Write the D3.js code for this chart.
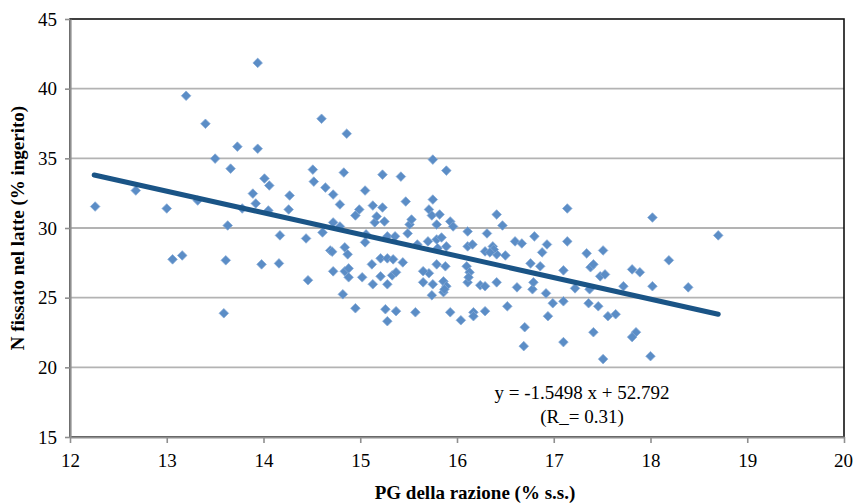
<!DOCTYPE html>
<html>
<head>
<meta charset="utf-8">
<script src="https://cdn.jsdelivr.net/npm/d3@7"></script>
<style>
    body { margin: 0; background: #fff; }
    svg text { font-family: "Liberation Serif", "Times New Roman", serif; fill: #000; }
</style>
</head>
<body>
<div id="chart"></div>
<script>
// PG della razione (% s.s.) - asse x
const pgRazione = [
    12.26, 12.68, 13.00, 13.06, 13.16, 13.20, 13.32, 13.40, 13.50, 13.59,
    13.61, 13.63, 13.66, 13.73, 13.78, 13.89, 13.92, 13.94, 13.94, 13.98,
    14.01, 14.05, 14.06, 14.16, 14.17, 14.26, 14.27, 14.44, 14.46, 14.51,
    14.52, 14.60, 14.61, 14.64, 14.69, 14.72, 14.72, 14.72, 14.79, 14.79,
    14.82, 14.83, 14.84, 14.84, 14.88, 14.86, 14.87, 14.88, 14.95, 14.95,
    14.99, 15.02, 15.05, 15.06, 15.05, 15.12, 15.13, 15.13, 15.15, 15.17,
    15.21, 15.21, 15.23, 15.23, 15.25, 15.26, 15.28, 15.28, 15.28, 15.28,
    15.34, 15.33, 15.36, 15.37, 15.37, 15.42, 15.44, 15.47, 15.49, 15.51,
    15.53, 15.57, 15.59, 15.65, 15.70, 15.71, 15.71, 15.74, 15.74, 15.75,
    15.75, 15.75, 15.79, 15.79, 15.79, 15.82, 15.84, 15.86, 15.86, 15.88,
    15.89, 15.89, 15.89, 15.93, 15.93, 15.96, 16.04, 16.10, 16.11, 16.11,
    16.11, 16.13, 16.16, 16.17, 16.17, 16.24, 16.29, 16.29, 16.29, 16.31,
    16.37, 16.41, 16.41, 16.41, 16.47, 16.50, 16.52, 16.60, 16.62, 16.67,
    16.69, 16.70, 16.76, 16.78, 16.79, 16.80, 16.86, 16.88, 16.92, 16.93,
    16.94, 16.99, 17.10, 17.10, 17.10, 17.14, 17.14, 17.22, 17.34, 17.36,
    17.37, 17.38, 17.41, 17.41, 17.46, 17.48, 17.51, 17.51, 17.53, 17.56,
    17.64, 17.72, 17.81, 17.85, 17.81, 17.89, 18.00, 18.02, 18.02, 18.19,
    18.39, 18.70, 15.87, 16.12, 16.38, 14.71, 15.80, 16.34, 15.65
];

// N fissato nel latte (% ingerito) - asse y
const nFissato = [
    31.54, 32.69, 31.40, 27.75, 28.03, 39.49, 31.97, 37.48, 34.98, 23.88,
    27.68, 30.18, 34.26, 35.84, 31.40, 32.47, 31.76, 35.69, 41.85, 27.39,
    33.55, 31.26, 33.05, 27.46, 29.47, 31.33, 32.33, 29.25, 26.25, 34.19,
    33.33, 37.84, 29.68, 32.90, 28.39, 32.40, 30.40, 26.89, 31.69, 30.11,
    25.24, 33.98, 28.61, 26.89, 27.10, 36.77, 28.11, 26.46, 30.90, 24.24,
    31.33, 26.46, 32.69, 29.54, 28.97, 27.39, 31.61, 25.96, 30.40, 30.83,
    27.82, 26.53, 33.83, 31.47, 30.47, 24.17, 29.40, 27.82, 25.96, 23.31,
    27.75, 26.60, 29.40, 24.03, 26.82, 33.69, 27.53, 31.90, 29.61, 30.25,
    30.61, 23.95, 28.82, 26.10, 29.04, 31.33, 26.75, 30.90, 25.17, 34.91,
    32.04, 25.96, 30.25, 29.18, 27.39, 30.97, 29.32, 26.17, 25.39, 27.25,
    34.12, 28.68, 25.82, 30.47, 23.95, 30.11, 23.38, 27.25, 29.75, 28.68,
    26.10, 26.82, 28.82, 23.95, 23.67, 25.89, 28.32, 25.82, 24.03, 29.61,
    28.68, 30.97, 28.11, 26.10, 30.18, 28.03, 24.38, 29.04, 25.74, 28.89,
    21.52, 22.88, 27.46, 25.60, 26.10, 29.40, 27.25, 28.25, 25.31, 28.82,
    23.67, 24.60, 26.96, 24.74, 21.81, 31.40, 29.04, 25.67, 28.18, 24.60,
    25.60, 27.18, 27.39, 22.52, 24.38, 26.53, 28.39, 20.59, 26.67, 23.67,
    23.81, 25.82, 27.03, 22.52, 22.17, 26.82, 20.80, 30.75, 25.82, 27.68,
    25.74, 29.47, 25.60, 26.46, 28.46, 28.30, 28.55, 28.25, 26.90
];

// retta di regressione y = -1.5498 x + 52.792
const trendSlope = -1.5498;
const trendIntercept = 52.792;
const trendRange = [12.25, 18.7];

const xTicks = [12, 13, 14, 15, 16, 17, 18, 19, 20];
const yTicks = [15, 20, 25, 30, 35, 40, 45];

const equationLines = ["y = -1.5498 x + 52.792", "(R_= 0.31)"];
const xTitle = "PG della razione (% s.s.)";
const yTitle = "N fissato nel latte (% ingerito)";

const WIDTH = 854;
const HEIGHT = 503;
const margin = { top: 19, right: 10, bottom: 66, left: 70 };

const svg = d3.select("#chart")
    .append("svg")
    .attr("width", WIDTH)
    .attr("height", HEIGHT);

const x = d3.scaleLinear()
    .domain([12, 20])
    .range([margin.left, WIDTH - margin.right]);

const y = d3.scaleLinear()
    .domain([15, 45])
    .range([HEIGHT - margin.bottom, margin.top]);

// griglia orizzontale
svg.append("g")
    .selectAll("line")
    .data(yTicks.filter(v => v > 15 && v < 45))
    .enter()
    .append("line")
    .attr("x1", x(12))
    .attr("x2", x(20))
    .attr("y1", d => y(d))
    .attr("y2", d => y(d))
    .attr("stroke", "#b3b3b3")
    .attr("stroke-width", 1.8);

// bordo dell'area del grafico
svg.append("rect")
    .attr("x", x(12))
    .attr("y", y(45))
    .attr("width", x(20) - x(12))
    .attr("height", y(15) - y(45))
    .attr("fill", "none")
    .attr("stroke", "#111")
    .attr("stroke-width", 1.6);

// assi
const yAxis = svg.append("g")
    .attr("transform", `translate(${x(12)},0)`)
    .call(d3.axisLeft(y).tickValues(yTicks).tickSize(5).tickPadding(8).tickSizeOuter(0));

const xAxis = svg.append("g")
    .attr("transform", `translate(0,${y(15)})`)
    .call(d3.axisBottom(x).tickValues(xTicks).tickSize(6).tickPadding(11).tickSizeOuter(0));

[yAxis, xAxis].forEach(ax => {
    ax.select(".domain").attr("stroke", "#8f8f8f").attr("stroke-width", 2.2);
    ax.selectAll(".tick line").attr("stroke", "#8f8f8f").attr("stroke-width", 1.6);
    ax.selectAll(".tick text")
        .style("font-size", "19px")
        .attr("fill", "#000");
});
// l'ultima etichetta ("20") sta dentro il bordo destro
xAxis.selectAll(".tick text")
    .filter(d => d === 20)
    .attr("text-anchor", "end")
    .attr("dx", "0.45em");

// punti (rombi)
const diamond = d3.symbol().type(d3.symbolSquare).size(46);
const points = pgRazione.map((v, i) => ({ x: v, y: nFissato[i] }));

svg.append("g")
    .selectAll("path")
    .data(points)
    .enter()
    .append("path")
    .attr("d", diamond)
    .attr("transform", d => `translate(${x(d.x)},${y(d.y)}) rotate(45)`)
    .attr("fill", "#5b8dc6")
    .attr("stroke", "#86aad6")
    .attr("stroke-width", 0.7);

// linea di tendenza
svg.append("line")
    .attr("x1", x(trendRange[0]))
    .attr("y1", y(trendSlope * trendRange[0] + trendIntercept))
    .attr("x2", x(trendRange[1]))
    .attr("y2", y(trendSlope * trendRange[1] + trendIntercept))
    .attr("stroke", "#1a5486")
    .attr("stroke-width", 5)
    .attr("stroke-linecap", "round");

// equazione
svg.append("g")
    .selectAll("text")
    .data(equationLines)
    .enter()
    .append("text")
    .attr("x", 582)
    .attr("y", (d, i) => 399 + i * 24)
    .attr("text-anchor", "middle")
    .style("font-size", "19px")
    .text(d => d);

// titoli assi
svg.append("text")
    .attr("x", 475)
    .attr("y", 499)
    .attr("text-anchor", "middle")
    .style("font-size", "19px")
    .style("font-weight", "bold")
    .text(xTitle);

svg.append("text")
    .attr("transform", `translate(24,228) rotate(-90)`)
    .attr("text-anchor", "middle")
    .style("font-size", "19px")
    .style("font-weight", "bold")
    .text(yTitle);
</script>
</body>
</html>
